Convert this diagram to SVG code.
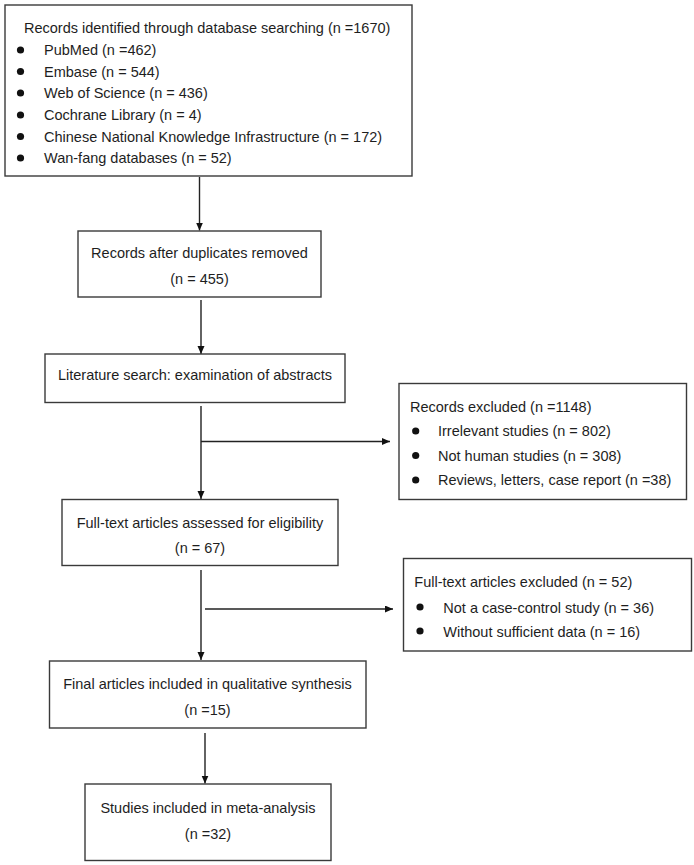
<svg xmlns="http://www.w3.org/2000/svg" width="694" height="865" viewBox="0 0 694 865">
<style>
  .box{fill:#fff;stroke:#3a3a3a;stroke-width:1.4}
  .t{font-family:"Liberation Sans",Arial,sans-serif;font-size:14.5px;fill:#1e1e1e}
  .c{text-anchor:middle}
  .b{fill:#111}
  .ln{stroke:#222;stroke-width:1.4;fill:none;marker-end:url(#ah)}
</style>
<defs>
  <marker id="ah" markerUnits="userSpaceOnUse" markerWidth="9" markerHeight="8" refX="8" refY="3.5" orient="auto">
    <path d="M0,0 L8,3.5 L0,7 z" fill="#111"/>
  </marker>
</defs>
<rect width="694" height="865" fill="#fff"/>
<g id="connectors">
  <line class="ln" x1="199.5" y1="177" x2="199.5" y2="230.5"/>
  <line class="ln" x1="201" y1="300" x2="201" y2="354"/>
  <line class="ln" x1="201" y1="406" x2="201" y2="499"/>
  <line class="ln" x1="201" y1="441.5" x2="390" y2="441.5"/>
  <line class="ln" x1="201" y1="570" x2="201" y2="660"/>
  <line class="ln" x1="205" y1="609" x2="393" y2="609"/>
  <line class="ln" x1="205" y1="733" x2="205" y2="783.5"/>
</g>
<g id="n1">
  <rect class="box" x="5" y="5" width="407" height="171"/>
  <text class="t" x="24" y="33">Records identified through database searching (n =1670)</text>
  <circle class="b" cx="20.5" cy="50" r="3.6"/><text class="t" x="44" y="55">PubMed (n =462)</text>
  <circle class="b" cx="20.5" cy="71.5" r="3.6"/><text class="t" x="44" y="76.5">Embase (n = 544)</text>
  <circle class="b" cx="20.5" cy="93" r="3.6"/><text class="t" x="44" y="98">Web of Science (n = 436)</text>
  <circle class="b" cx="20.5" cy="115" r="3.6"/><text class="t" x="44" y="120">Cochrane Library (n = 4)</text>
  <circle class="b" cx="20.5" cy="136.5" r="3.6"/><text class="t" x="44" y="141.5">Chinese National Knowledge Infrastructure (n = 172)</text>
  <circle class="b" cx="20.5" cy="158" r="3.6"/><text class="t" x="44" y="163">Wan-fang databases (n = 52)</text>
</g>
<g id="n2">
  <rect class="box" x="78" y="231" width="243" height="66"/>
  <text class="t c" x="199.5" y="258">Records after duplicates removed</text>
  <text class="t c" x="199.5" y="283.5">(n = 455)</text>
</g>
<g id="n3">
  <rect class="box" x="45" y="354" width="300" height="48.5"/>
  <text class="t c" x="195" y="380">Literature search: examination of abstracts</text>
</g>
<g id="n4">
  <rect class="box" x="399" y="383.5" width="287.5" height="116"/>
  <text class="t" x="410" y="411.5">Records excluded (n =1148)</text>
  <circle class="b" cx="415.7" cy="431" r="3.6"/><text class="t" x="438" y="436">Irrelevant studies (n = 802)</text>
  <circle class="b" cx="415.7" cy="455.5" r="3.6"/><text class="t" x="438" y="460.5">Not human studies (n = 308)</text>
  <circle class="b" cx="415.7" cy="480" r="3.6"/><text class="t" x="438" y="485">Reviews, letters, case report (n =38)</text>
</g>
<g id="n5">
  <rect class="box" x="62" y="499.5" width="276" height="66"/>
  <text class="t c" x="200" y="528">Full-text articles assessed for eligibility</text>
  <text class="t c" x="200" y="553">(n = 67)</text>
</g>
<g id="n6">
  <rect class="box" x="403.5" y="558.5" width="288" height="92.5"/>
  <text class="t" x="414.3" y="587.3">Full-text articles excluded (n = 52)</text>
  <circle class="b" cx="420" cy="607" r="3.6"/><text class="t" x="443.3" y="612.5">Not a case-control study (n = 36)</text>
  <circle class="b" cx="420" cy="631" r="3.6"/><text class="t" x="443.3" y="636.5">Without sufficient data (n = 16)</text>
</g>
<g id="n7">
  <rect class="box" x="49.5" y="661" width="316.5" height="67"/>
  <text class="t c" x="207.5" y="689.3">Final articles included in qualitative synthesis</text>
  <text class="t c" x="207.5" y="715">(n =15)</text>
</g>
<g id="n8">
  <rect class="box" x="85" y="784" width="246" height="76.5"/>
  <text class="t c" x="208" y="812.7">Studies included in meta-analysis</text>
  <text class="t c" x="208" y="839">(n =32)</text>
</g>
</svg>
